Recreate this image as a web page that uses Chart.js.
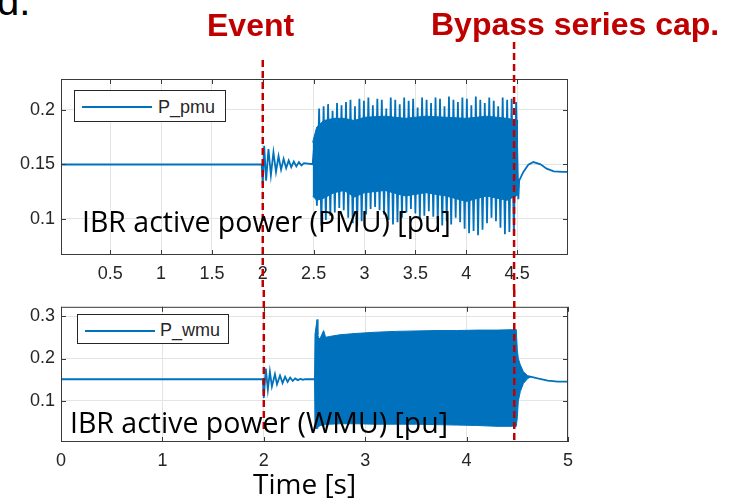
<!DOCTYPE html>
<html>
<head>
<meta charset="utf-8">
<script src="https://cdn.jsdelivr.net/npm/chart.js@4.4.1/dist/chart.umd.min.js"></script>
<style>
  body { margin: 0; width: 736px; height: 499px; background: #fff; position: relative; overflow: hidden; font-family: "Liberation Sans", Arial, sans-serif; }
  canvas { position: absolute; left: 0; }
  #topChart { top: 40px; }
  #bottomChart { top: 290px; }
  .note { position: absolute; white-space: nowrap; line-height: 1; }
  .red { color: #C00000; font-weight: bold; font-size: 32px; }
  .caption { font-family: "Open Sans", Lato, sans-serif; font-size: 28.5px; color: #000; }
  .legend { position: absolute; border: 1px solid #262626; background: #fff; box-sizing: border-box; }
  .legend .swatch { position: absolute; height: 2px; background: #0072BD; }
  .legend .label { position: absolute; font-size: 18px; color: #262626; line-height: 1; }
</style>
</head>
<body>
<canvas id="topChart" width="600" height="250"></canvas>
<canvas id="bottomChart" width="600" height="209"></canvas>

<div class="note" style="left:-3px; top:-19px; font-size:40px;">d.</div>
<div class="note red" style="left:207px; top:9px;">Event</div>
<div class="note red" style="left:431px; top:8px;">Bypass series cap.</div>

<div class="legend" style="left:74px; top:90px; width:152px; height:32px;">
  <div class="swatch" style="left:7px; top:15px; width:70px;"></div>
  <div class="label" style="left:83px; top:7px;">P_pmu</div>
</div>
<div class="legend" style="left:77px; top:314px; width:152px; height:30px;">
  <div class="swatch" style="left:7px; top:15px; width:70px;"></div>
  <div class="label" style="left:82px; top:6px;">P_wmu</div>
</div>

<div class="note caption" style="left:82px; top:206.5px;">IBR active power (PMU) [pu]</div>
<div class="note caption" style="left:70px; top:408px;">IBR active power (WMU) [pu]</div>
<div class="note caption" style="left:253px; top:469px; font-size:28px;">Time [s]</div>

<script>
// event markers (s)
const eventTimes = [2.0, 4.47];

// ---- P_pmu (top) ----
const pmuPreTime = [0.017, 1.99, 2.0, 2.014, 2.033, 2.056, 2.08, 2.105, 2.13, 2.155, 2.18, 2.205, 2.23, 2.255, 2.28, 2.305, 2.33, 2.355, 2.38, 2.405, 2.49];
const pmuPreValue = [0.1498, 0.1498, 0.131, 0.167, 0.135, 0.164, 0.14, 0.161, 0.143, 0.1575, 0.145, 0.155, 0.1465, 0.1535, 0.1474, 0.1525, 0.148, 0.152, 0.149, 0.151, 0.15];

// oscillation peaks/troughs after 2.5 s, sampled every half cycle
const pmuBurstStart = 2.51;
const pmuBurstStep = 0.022;
const pmuBurst = [
  0.172, 0.112, 0.201, 0.094, 0.203, 0.099, 0.205, 0.103, 0.199, 0.106,
  0.206, 0.110, 0.204, 0.108, 0.207, 0.101, 0.209, 0.096, 0.203, 0.093,
  0.210, 0.098, 0.208, 0.104, 0.211, 0.109, 0.204, 0.111, 0.210, 0.108,
  0.209, 0.104, 0.201, 0.099, 0.211, 0.095, 0.209, 0.097, 0.205, 0.101,
  0.211, 0.106, 0.208, 0.109, 0.210, 0.105, 0.202, 0.100, 0.211, 0.103,
  0.209, 0.107, 0.206, 0.102, 0.211, 0.096, 0.210, 0.094, 0.203, 0.098,
  0.212, 0.095, 0.209, 0.101, 0.207, 0.097, 0.211, 0.091, 0.210, 0.087,
  0.204, 0.089, 0.212, 0.085, 0.209, 0.090, 0.206, 0.096, 0.211, 0.101,
  0.208, 0.098, 0.203, 0.092, 0.211, 0.086, 0.209, 0.088, 0.210, 0.085,
  0.207, 0.118
];

// dense core of the oscillation band
const pmuCoreTime = [2.49, 2.53, 2.6, 2.7, 2.8, 2.9, 3.0, 3.2, 3.4, 3.6, 3.8, 4.0, 4.2, 4.4, 4.51];
const pmuCoreUpper = [0.170, 0.184, 0.190, 0.192, 0.192, 0.190, 0.193, 0.194, 0.192, 0.194, 0.193, 0.192, 0.194, 0.192, 0.190];
const pmuCoreLower = [0.121, 0.117, 0.119, 0.124, 0.126, 0.120, 0.124, 0.126, 0.121, 0.124, 0.121, 0.116, 0.121, 0.117, 0.122];

const pmuPostTime = [4.52, 4.56, 4.61, 4.66, 4.73, 4.79, 4.86, 4.95, 5.0];
const pmuPostValue = [0.135, 0.1428, 0.1495, 0.152, 0.150, 0.146, 0.1435, 0.143, 0.143];

const topXTicks = [0.5, 1, 1.5, 2, 2.5, 3, 3.5, 4, 4.5];
const topYTicks = [0.1, 0.15, 0.2];

// ---- P_wmu (bottom) ----
const wmuTime = [0, 1.99, 2.0, 2.02, 2.04, 2.06, 2.08, 2.11, 2.13, 2.16, 2.185, 2.21, 2.235, 2.26, 2.285, 2.31, 2.335, 2.36, 2.385, 2.41, 2.5, 4.63, 4.7, 4.8, 4.9, 5.0];
const wmuValue = [0.151, 0.151, 0.107, 0.176, 0.126, 0.169, 0.134, 0.163, 0.139, 0.160, 0.142, 0.157, 0.145, 0.155, 0.147, 0.153, 0.149, 0.152, 0.150, 0.1515, 0.151, 0.157, 0.153, 0.148, 0.1455, 0.1455];

// envelope of the fast oscillation 2.5 - 4.63 s
const wmuBandTime = [2.5, 2.505, 2.525, 2.533, 2.545, 2.56, 2.59, 2.61, 2.65, 2.75, 2.9, 3.1, 3.3, 3.5, 3.7, 3.9, 4.1, 4.3, 4.45, 4.49, 4.5, 4.51, 4.53, 4.56, 4.6, 4.63];
const wmuBandUpper = [0.151, 0.257, 0.292, 0.255, 0.246, 0.25, 0.266, 0.25, 0.252, 0.256, 0.259, 0.262, 0.264, 0.265, 0.266, 0.266, 0.267, 0.267, 0.268, 0.268, 0.22, 0.2, 0.185, 0.169, 0.16, 0.157];
const wmuBandLower = [0.151, 0.035, 0.035, 0.038, 0.04, 0.042, 0.043, 0.044, 0.045, 0.046, 0.046, 0.045, 0.045, 0.045, 0.044, 0.043, 0.042, 0.04, 0.04, 0.04, 0.06, 0.1, 0.122, 0.141, 0.152, 0.157];

const bottomXTicks = [0, 1, 2, 3, 4, 5];
const bottomYTicks = [0.1, 0.2, 0.3];

const blue = "#0072BD";
const toPoints = (xs, ys) => xs.map((x, i) => ({ x: x, y: ys[i] }));

const pmuPoints = toPoints(pmuPreTime, pmuPreValue)
  .concat(pmuBurst.map((v, i) => ({ x: pmuBurstStart + i * pmuBurstStep, y: v })))
  .concat(toPoints(pmuPostTime, pmuPostValue));

// box, inward ticks and the red event markers
const matlabAxes = {
  id: "matlabAxes",
  afterDatasetsDraw(chart, args, opts) {
    const { ctx, chartArea: a } = chart;
    const x = chart.scales.x;
    const y = chart.scales.y;
    ctx.save();
    ctx.strokeStyle = "#3a3a3a";
    ctx.lineWidth = 1;
    ctx.beginPath();
    x.ticks.forEach((t) => {
      const px = Math.round(x.getPixelForValue(t.value)) + 0.5;
      ctx.moveTo(px, a.bottom);
      ctx.lineTo(px, a.bottom - 5);
      ctx.moveTo(px, a.top);
      ctx.lineTo(px, a.top + 5);
    });
    y.ticks.forEach((t) => {
      const py = Math.round(y.getPixelForValue(t.value)) + 0.5;
      ctx.moveTo(a.left, py);
      ctx.lineTo(a.left + 5, py);
      ctx.moveTo(a.right, py);
      ctx.lineTo(a.right - 5, py);
    });
    ctx.stroke();
    ctx.strokeRect(a.left + 0.5, a.top + 0.5, a.right - a.left - 1, a.bottom - a.top - 1);

    ctx.strokeStyle = "#C00000";
    ctx.lineWidth = 2.5;
    ctx.setLineDash([7, 4]);
    opts.markers.forEach((m, i) => {
      const px = x.getPixelForValue(eventTimes[i]);
      ctx.beginPath();
      ctx.moveTo(px, m[0]);
      ctx.lineTo(px, m[1]);
      ctx.stroke();
    });
    ctx.restore();
  },
};

const tickFont = { family: "Liberation Sans", size: 18 };

const makeScales = (xMin, xMax, xTicks, yMin, yMax, yTicks, xHeight) => ({
  x: {
    type: "linear",
    min: xMin,
    max: xMax,
    afterBuildTicks: (s) => { s.ticks = xTicks.map((v) => ({ value: v })); },
    afterFit: (s) => { s.height = xHeight; },
    grid: { color: "#e4e4e4", drawTicks: false },
    border: { display: false },
    ticks: { padding: 8, color: "#262626", font: tickFont, autoSkip: false, maxRotation: 0, callback: (v) => String(v) },
  },
  y: {
    type: "linear",
    min: yMin,
    max: yMax,
    afterBuildTicks: (s) => { s.ticks = yTicks.map((v) => ({ value: v })); },
    afterFit: (s) => { s.width = 61; },
    grid: { color: "#e4e4e4", drawTicks: false },
    border: { display: false },
    ticks: { padding: 6, color: "#262626", font: tickFont, callback: (v) => String(v) },
  },
});

const commonOptions = {
  responsive: false,
  animation: false,
  events: [],
  plugins: { legend: { display: false }, tooltip: { enabled: false } },
};

new Chart(document.getElementById("topChart"), {
  type: "line",
  data: {
    datasets: [
      { data: pmuPoints, borderColor: blue, borderWidth: 1.8, pointRadius: 0, fill: false },
      { data: toPoints(pmuCoreTime, pmuCoreUpper), borderColor: blue, borderWidth: 1, backgroundColor: blue, pointRadius: 0, fill: "+1" },
      { data: toPoints(pmuCoreTime, pmuCoreLower), borderColor: blue, borderWidth: 1, pointRadius: 0, fill: false },
    ],
  },
  options: {
    ...commonOptions,
    layout: { padding: { top: 39, right: 32, left: 0, bottom: 0 } },
    scales: makeScales(0.017, 5.0, topXTicks, 0.067, 0.228, topYTicks, 35),
    plugins: { ...commonOptions.plugins, matlabAxes: { markers: [[20, 250], [2, 250]] } },
  },
  plugins: [matlabAxes],
});

new Chart(document.getElementById("bottomChart"), {
  type: "line",
  data: {
    datasets: [
      { data: toPoints(wmuTime, wmuValue), borderColor: blue, borderWidth: 1.8, pointRadius: 0, fill: false },
      { data: toPoints(wmuBandTime, wmuBandUpper), borderColor: blue, borderWidth: 1, backgroundColor: blue, pointRadius: 0, fill: "+1" },
      { data: toPoints(wmuBandTime, wmuBandLower), borderColor: blue, borderWidth: 1, pointRadius: 0, fill: false },
    ],
  },
  options: {
    ...commonOptions,
    layout: { padding: { top: 13, right: 32, left: 0, bottom: 0 } },
    scales: makeScales(0, 5, bottomXTicks, 0.003, 0.322, bottomYTicks, 57),
    plugins: { ...commonOptions.plugins, matlabAxes: { markers: [[0, 142], [0, 152]] } },
  },
  plugins: [matlabAxes],
});
</script>
</body>
</html>
